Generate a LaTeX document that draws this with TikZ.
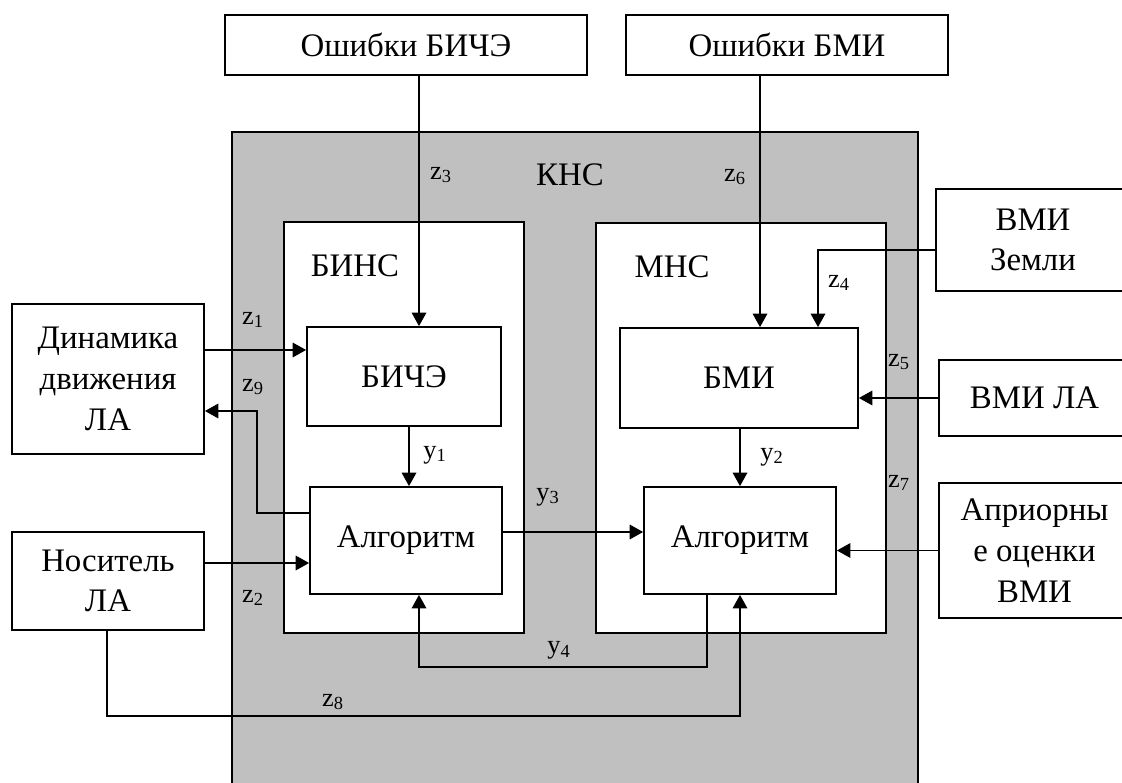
\documentclass[tikz,border=0pt]{standalone}
\usepackage{fontspec}
\setmainfont{Liberation Serif}
\usetikzlibrary{arrows.meta}

\begin{document}
\begin{tikzpicture}[x=0.02cm, y=-0.02cm,
    box/.style={draw=borderColour, line width=1pt, fill=white, inner sep=0pt, align=center, font=\fontsize{18.7}{23.2}\selectfont},
    title/.style={inner sep=0pt, font=\fontsize{18.7}{23.2}\selectfont},
    lbl/.style={inner sep=0pt, font=\fontsize{15}{18}\selectfont},
    arr/.style={draw=borderColour, line width=1pt, -{Triangle[length=0.27cm,width=0.29cm]}}]
    % Define colours
    \definecolor{borderColour}{HTML}{000000}
    \definecolor{knsColour}{HTML}{C0C0C0}

    % Fix the picture size
    \useasboundingbox (0,0) rectangle (1122,783);
    \clip (0,0) rectangle (1122,783);

    % Draw the outer system and its two subsystems
    \node[box, fill=knsColour, minimum width=13.72cm, minimum height=13.36cm] (kns) at (575,466) {};
    \node[box, minimum width=4.8cm, minimum height=8.22cm] (bins) at (404,427.5) {};
    \node[box, minimum width=5.8cm, minimum height=8.2cm] (mns) at (741,428) {};
    \node[title] (knsName) at (570,175) {КНС};
    \node[title] (binsName) at (355,266) {БИНС};
    \node[title] (mnsName) at (672,267) {МНС};

    % Draw the blocks inside
    \node[box, minimum width=3.88cm, minimum height=1.98cm] (bice) at (404,376.5) {БИЧЭ};
    \node[box, minimum width=3.84cm, minimum height=2.14cm] (algL) at (406,540.5) {Алгоритм};
    \node[box, minimum width=4.76cm, minimum height=2cm] (bmi) at (739,378) {БМИ};
    \node[box, minimum width=3.84cm, minimum height=2.14cm] (algR) at (740,540.5) {Алгоритм};

    % Draw the outside blocks
    \node[box, minimum width=7.24cm, minimum height=1.2cm] (errBice) at (406,45) {Ошибки БИЧЭ};
    \node[box, minimum width=6.44cm, minimum height=1.2cm] (errBmi) at (787,45) {Ошибки БМИ};
    \node[box, minimum width=3.84cm, minimum height=3cm] (dyn) at (108,379) {Динамика\\движения\\ЛА};
    \node[box, minimum width=3.84cm, minimum height=1.96cm] (carrier) at (108,581) {Носитель\\ЛА};
    \node[box, minimum width=3.88cm, minimum height=2.04cm] (vmiEarth) at (1033,240) {ВМИ\\Земли};
    \node[box, minimum width=3.82cm, minimum height=1.52cm] (vmiLa) at (1034.5,398) {ВМИ ЛА};
    \node[box, minimum width=3.82cm, minimum height=2.7cm] (apriori) at (1034.5,550.5) {Априорны\\е оценки\\ВМИ};

    % Bend points of the connectors
    \coordinate (z3x) at (419,0);
    \coordinate (z6x) at (760,0);
    \coordinate (z4bend) at (818,250);
    \coordinate (z1y) at (0,350);
    \coordinate (z2y) at (0,563);
    \coordinate (z9low) at (257,513);
    \coordinate (z9high) at (257,411);
    \coordinate (y1x) at (409,0);
    \coordinate (y3y) at (0,532);
    \coordinate (y4r) at (707,667);
    \coordinate (y4l) at (419,667);
    \coordinate (z8l) at (107,716);

    % Draw the connectors
    \draw[arr] (errBice.south -| z3x) -- (bice.north -| z3x);
    \draw[arr] (errBmi.south -| z6x) -- (bmi.north -| z6x);
    \draw[arr] (vmiEarth.west |- z4bend) -- (z4bend) -- (bmi.north -| z4bend);
    \draw[arr] (vmiLa.west) -- (bmi.east |- vmiLa.west);
    \draw[arr] (apriori.west) -- (algR.east |- apriori.west);
    \draw[arr] (dyn.east |- z1y) -- (bice.west |- z1y);
    \draw[arr] (carrier.east |- z2y) -- (algL.west |- z2y);
    \draw[arr] (algL.west |- z9low) -- (z9low) -- (z9high) -- (dyn.east |- z9high);
    \draw[arr] (bice.south -| y1x) -- (algL.north -| y1x);
    \draw[arr] (bmi.south -| algR.north) -- (algR.north);
    \draw[arr] (algL.east |- y3y) -- (algR.west |- y3y);
    \draw[arr] (algR.south -| y4r) -- (y4r) -- (y4l) -- (algL.south -| y4l);
    \draw[arr] (carrier.south -| z8l) -- (z8l) -| (algR.south);

    % Label the signals
    \node[lbl] (z1) at (253,320) {z\textsubscript{1}};
    \node[lbl] (z2) at (253,598) {z\textsubscript{2}};
    \node[lbl] (z3) at (441,175) {z\textsubscript{3}};
    \node[lbl] (z4) at (839,283) {z\textsubscript{4}};
    \node[lbl] (z5) at (899,362) {z\textsubscript{5}};
    \node[lbl] (z6) at (735,177) {z\textsubscript{6}};
    \node[lbl] (z7) at (899,483) {z\textsubscript{7}};
    \node[lbl] (z8) at (333,702) {z\textsubscript{8}};
    \node[lbl] (z9) at (253,387) {z\textsubscript{9}};
    \node[lbl] (y1) at (435,455) {y\textsubscript{1}};
    \node[lbl] (y2) at (772,457) {y\textsubscript{2}};
    \node[lbl] (y3) at (548,497) {y\textsubscript{3}};
    \node[lbl] (y4) at (559,650) {y\textsubscript{4}};
\end{tikzpicture}
\end{document}
